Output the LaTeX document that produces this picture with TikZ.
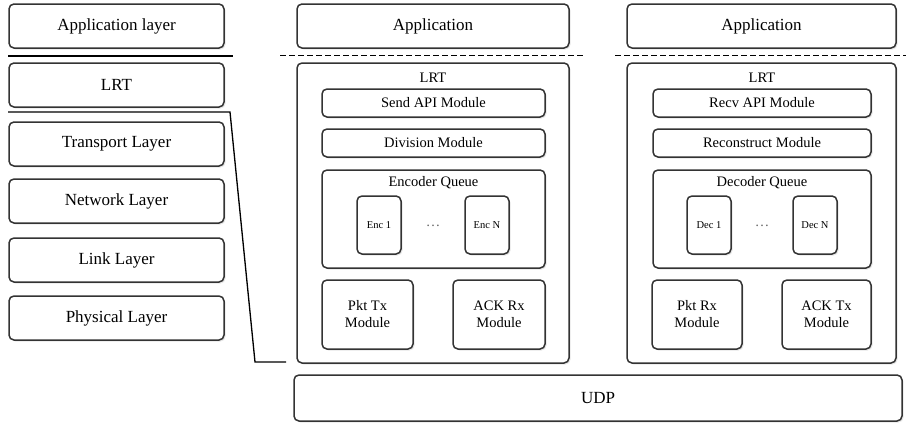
\documentclass[tikz,border=0pt]{standalone}
\usepackage{fontspec}
\setmainfont{Liberation Serif}
\usetikzlibrary{shadows}

\tikzset{
    box/.style={draw=black!80, line width=1.5pt, rounded corners=5pt, fill=white,
        drop shadow={shadow xshift=1.5pt, shadow yshift=-1.5pt, opacity=0.2},
        align=center, inner sep=0pt},
    sepline/.style={line width=1pt, dash pattern=on 6pt off 3pt},
    bigtxt/.style={font=\fontsize{17}{20}\selectfont},
    midtxt/.style={font=\fontsize{14.5}{17}\selectfont},
    smalltxt/.style={font=\fontsize{10.5}{12}\selectfont},
}

\begin{document}
\begin{tikzpicture}[x=1pt, y=-1pt]
    \useasboundingbox (0,0) rectangle (906,423);

    % left stack
    \node[box, bigtxt, minimum width=215, minimum height=44] (applayer) at (116.5,26) {Application layer};
    \node[box, bigtxt, minimum width=215, minimum height=44] (lrtlayer) at (116.5,85) {LRT};
    \node[box, bigtxt, minimum width=215, minimum height=44] (transport) at (116.5,144) {Transport Layer};
    \node[box, bigtxt, minimum width=215, minimum height=44] (network) at (116.5,201) {Network Layer};
    \node[box, bigtxt, minimum width=215, minimum height=44] (link) at (116.5,260) {Link Layer};
    \node[box, bigtxt, minimum width=215, minimum height=44] (physical) at (116.5,318) {Physical Layer};

    \draw[line width=1.3pt] (8,56) -- (233,56);
    \coordinate (kneetop) at (230,112);
    \coordinate (kneebot) at (255,362);
    \draw[line width=1.3pt] (8,112) -- (kneetop) -- (kneebot) -- (286,362);

    % sender side
    \node[box, bigtxt, minimum width=272, minimum height=44] (appsend) at (433,26) {Application};
    \draw[sepline] (280,55) -- (584,55);
    \node[box, minimum width=272, minimum height=300] (lrtsend) at (433,213) {};
    \node[midtxt] (lrtsendlbl) at (433,78) {LRT};
    \node[box, midtxt, minimum width=223, minimum height=28] (sendapi) at (433.5,103) {Send API Module};
    \node[box, midtxt, minimum width=223, minimum height=28] (division) at (433.5,143) {Division Module};
    \node[box, minimum width=223, minimum height=98] (encq) at (433.5,219) {};
    \node[midtxt] (encqlbl) at (433.5,183) {Encoder Queue};
    \node[box, smalltxt, minimum width=44, minimum height=58] (enc1) at (379,225) {Enc 1};
    \node[box, smalltxt, minimum width=44, minimum height=58] (encn) at (487,225) {Enc N};
    \node[midtxt, text=black!60] (encdots) at (433,226) {\dots};
    \node[box, midtxt, minimum width=91, minimum height=69] (pkttx) at (367.5,314.5) {Pkt Tx\\Module};
    \node[box, midtxt, minimum width=92, minimum height=69] (ackrx) at (499,314.5) {ACK Rx\\Module};

    % receiver side
    \node[box, bigtxt, minimum width=269, minimum height=44] (apprecv) at (761.5,26) {Application};
    \draw[sepline] (615,55) -- (906,55);
    \node[box, minimum width=269, minimum height=300] (lrtrecv) at (761.5,213) {};
    \node[midtxt] (lrtrecvlbl) at (762,78) {LRT};
    \node[box, midtxt, minimum width=218, minimum height=28] (recvapi) at (762,103) {Recv API Module};
    \node[box, midtxt, minimum width=218, minimum height=28] (reconstruct) at (762,143) {Reconstruct Module};
    \node[box, minimum width=218, minimum height=98] (decq) at (762,219) {};
    \node[midtxt] (decqlbl) at (762,183) {Decoder Queue};
    \node[box, smalltxt, minimum width=44, minimum height=58] (dec1) at (709,225) {Dec 1};
    \node[box, smalltxt, minimum width=44, minimum height=58] (decn) at (815,225) {Dec N};
    \node[midtxt, text=black!60] (decdots) at (762,226) {\dots};
    \node[box, midtxt, minimum width=90, minimum height=69] (pktrx) at (697,314.5) {Pkt Rx\\Module};
    \node[box, midtxt, minimum width=89, minimum height=69] (acktx) at (826.5,314.5) {ACK Tx\\Module};

    % bottom
    \node[box, bigtxt, minimum width=608, minimum height=46] (udp) at (598,398) {UDP};
\end{tikzpicture}
\end{document}
